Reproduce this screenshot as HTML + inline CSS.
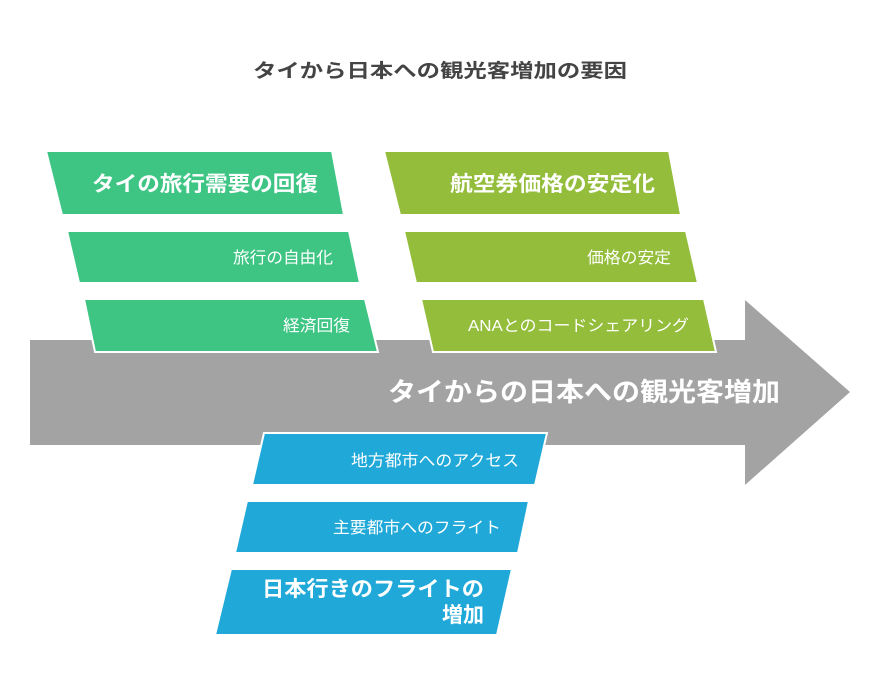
<!DOCTYPE html>
<html><head><meta charset="utf-8"><style>html,body{margin:0;padding:0;background:#fff}svg{display:block}text{font-family:"Liberation Sans","Noto Sans CJK JP",sans-serif}</style></head><body>
<svg width="880" height="692" viewBox="0 0 880 692">
<text x="253" y="77" font-size="19" font-weight="bold" fill="#444" textLength="374" lengthAdjust="spacingAndGlyphs">タイから日本への観光客増加の要因</text>
<polygon points="30,340 745,340 745,300 850,392 745,485 745,445 30,445" fill="#a3a3a3"/>
<g stroke="#fff" stroke-width="2">
<polygon points="46,151 332,151 344,215 62,215" fill="#3ec584"/>
<polygon points="67,231 349,231 360,283 79,283" fill="#3ec584"/>
<polygon points="84,299 365,299 378,352 95,352" fill="#3ec584"/>
<polygon points="384,151 669,151 681,215 400,215" fill="#93bd3a"/>
<polygon points="404,231 686,231 698,283 416,283" fill="#93bd3a"/>
<polygon points="421,299 704,299 716,352 433,352" fill="#93bd3a"/>
<polygon points="264,433 547,433 535,485 252,485" fill="#20a9d8"/>
<polygon points="247,501 529,501 518,553 235,553" fill="#20a9d8"/>
<polygon points="231,569 512,569 497,635 215,635" fill="#20a9d8"/>
</g>
<g fill="#fff" lengthAdjust="spacingAndGlyphs">
<text x="92" y="191" font-size="21" font-weight="bold" textLength="226" lengthAdjust="spacingAndGlyphs">タイの旅行需要の回復</text>
<text x="233" y="263" font-size="16" textLength="100" lengthAdjust="spacingAndGlyphs">旅行の自由化</text>
<text x="283" y="331" font-size="16" textLength="67" lengthAdjust="spacingAndGlyphs">経済回復</text>
<text x="450" y="191" font-size="21" font-weight="bold" textLength="205" lengthAdjust="spacingAndGlyphs">航空券価格の安定化</text>
<text x="587" y="263" font-size="16" textLength="84" lengthAdjust="spacingAndGlyphs">価格の安定</text>
<text x="468" y="331" font-size="16" textLength="221" lengthAdjust="spacingAndGlyphs">ANAとのコードシェアリング</text>
<text x="351" y="466" font-size="16" textLength="168" lengthAdjust="spacingAndGlyphs">地方都市へのアクセス</text>
<text x="333" y="533" font-size="16" textLength="168" lengthAdjust="spacingAndGlyphs">主要都市へのフライト</text>
<text x="262" y="596" font-size="21" font-weight="bold" textLength="222" lengthAdjust="spacingAndGlyphs">日本行きのフライトの</text>
<text x="442" y="622" font-size="21" font-weight="bold" textLength="42" lengthAdjust="spacingAndGlyphs">増加</text>
<text x="388" y="401" font-size="26" font-weight="bold" textLength="392" lengthAdjust="spacingAndGlyphs">タイからの日本への観光客増加</text>
</g>
</svg>
</body></html>
